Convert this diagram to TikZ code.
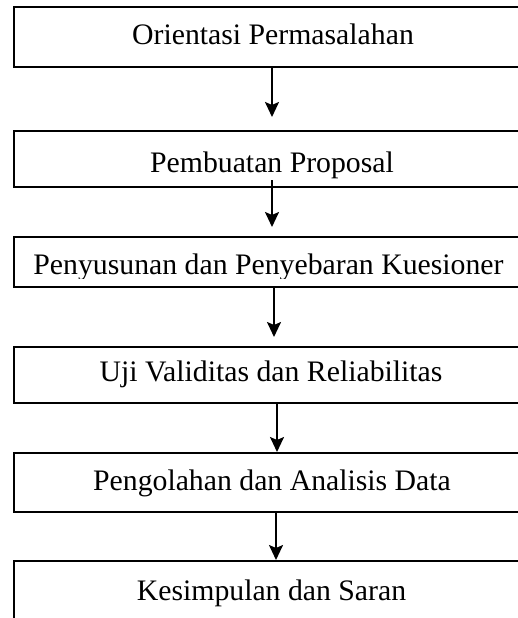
\documentclass[tikz,border=0pt]{standalone}
\usepackage{fontspec}
\setmainfont{Liberation Serif}
\usetikzlibrary{arrows.meta}
\begin{document}
\begin{tikzpicture}[x=0.4pt,y=-0.4pt,line width=0.8pt,
        stepbox/.style={draw,rectangle,minimum width=206.4pt,inner sep=0pt},
        steptext/.style={anchor=base,inner sep=0pt,font=\fontsize{11.9}{14}\selectfont},
        flow/.style={-{Stealth[length=6pt,width=5.6pt,inset=1.2pt]}}]

        \useasboundingbox (0,0) rectangle (518,618);
        \clip (0,0) rectangle (518,618);

        % Define boxes
        \node[stepbox,minimum height=24pt] (b1) at (272,37) {};
        \node[stepbox,minimum height=22.4pt] (b2) at (272,159) {};
        \node[stepbox,minimum height=20pt] (b3) at (272,262) {};
        \node[stepbox,minimum height=22.4pt] (b4) at (272,375) {};
        \node[stepbox,minimum height=23.6pt] (b5) at (272,482.5) {};
        \node[stepbox,minimum height=31.2pt] (b6) at (272,600) {};

        % Define texts
        \node[steptext] (t1) at (273,45) {Orientasi Permasalahan};
        \node[steptext] (t2) at (272,172.7) {Pembuatan Proposal};
        \begin{scope}
            \clip (0,0) rectangle (518,279);
            \node[steptext] (t3) at (268.5,275) {Penyusunan dan Penyebaran Kuesioner};
        \end{scope}
        \node[steptext] (t4) at (271,381.7) {Uji Validitas dan Reliabilitas};
        \node[steptext] (t5) at (272,490) {Pengolahan dan Analisis Data};
        \node[steptext] (t6) at (271.5,600) {Kesimpulan dan Saran};

        % Draw arrows
        \path
            (b1.south) edge[flow,shorten >=5.2pt] (b2.north)
            (t2.south) edge[flow,shorten >=3.6pt] (t2.south |- b3.north)
            ([xshift=0.8pt]b3.south) edge[flow,shorten >=3.6pt] ([xshift=0.8pt]b4.north)
            ([xshift=2pt]b4.south) edge[flow] ([xshift=2pt]b5.north)
            ([xshift=1.6pt]b5.south) edge[flow] ([xshift=1.6pt]b6.north);

\end{tikzpicture}
\end{document}
